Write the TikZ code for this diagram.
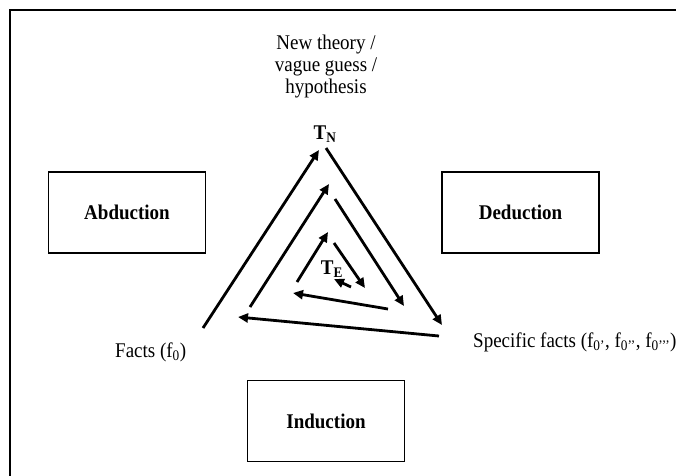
\documentclass[tikz,border=0pt]{standalone}
\usepackage{fontspec}
\usepackage{graphicx}
\setmainfont{Liberation Serif}
\usetikzlibrary{arrows.meta}

% glyphs are set slightly taller than wide
\newcommand\tallset[1]{\scalebox{1}[1.1]{#1}}

\tikzset{
  txt/.style={font=\fontsize{19}{20}\selectfont, inner sep=0pt},
  boldtxt/.style={txt, font=\fontsize{19}{20}\selectfont\bfseries},
  modebox/.style={draw, line width=1.2pt, minimum width=157pt, minimum height=81pt,
    font=\fontsize{19}{20}\selectfont\bfseries},
  cycle/.style={line width=2.8pt, -{Triangle[length=10pt,width=9pt]}},
}

\begin{document}
\begin{tikzpicture}[x=1pt, y=-1pt]
  \useasboundingbox (0,0) rectangle (676,475);
  \fill[white] (0,0) rectangle (676,475);

  % outer frame (only its top and left edges fall on the page)
  \draw[line width=1.6pt] (10,490) -- (10,10) -- (690,10);

  % labels
  \node[txt] (hyp) at (326,67)
    {\tallset{\begin{tabular}{@{}c@{}}New theory /\\vague guess /\\hypothesis\end{tabular}}};
  \node[boldtxt, anchor=base] (TN) at (325,139) {\tallset{T\textsubscript{N}}};
  \node[boldtxt, anchor=base] (TE) at (332,274) {\tallset{T\textsubscript{E}}};
  \node[txt, anchor=base west] (facts) at (115,357) {\tallset{Facts (f\textsubscript{0})}};
  \node[txt, anchor=base west] (specific) at (473,347)
    {\tallset{Specific facts (f\textsubscript{0’}, f\textsubscript{0’’}, f\textsubscript{0’’’})}};

  % modes of reasoning
  \node[modebox] (abd) at (127,212.5) {\tallset{Abduction}};
  \node[modebox] (ded) at (520.5,212.5) {\tallset{Deduction}};
  \node[modebox] (ind) at (326,421) {\tallset{Induction}};

  % spiral end points
  \coordinate (o1s) at (203,328); \coordinate (o1e) at (319,150);
  \coordinate (o2s) at (326,148); \coordinate (o2e) at (442,325);
  \coordinate (o3s) at (439,336); \coordinate (o3e) at (238,317);
  \coordinate (m1s) at (250,307); \coordinate (m1e) at (329,184);
  \coordinate (m2s) at (335,199); \coordinate (m2e) at (404,306);
  \coordinate (m3s) at (388,309); \coordinate (m3e) at (293,293);
  \coordinate (i1s) at (297,282); \coordinate (i1e) at (328,232);
  \coordinate (i2s) at (334,243); \coordinate (i2e) at (365,288);
  \coordinate (i3s) at (351,287); \coordinate (i3e) at (334,279);

  % inward spiral of arrows
  \draw[cycle] (o1s) -- (o1e);
  \draw[cycle] (o2s) -- (o2e);
  \draw[cycle] (o3s) -- (o3e);
  \draw[cycle] (m1s) -- (m1e);
  \draw[cycle] (m2s) -- (m2e);
  \draw[cycle] (m3s) -- (m3e);
  \draw[cycle] (i1s) -- (i1e);
  \draw[cycle] (i2s) -- (i2e);
  \draw[cycle] (i3s) -- (i3e);
\end{tikzpicture}
\end{document}
